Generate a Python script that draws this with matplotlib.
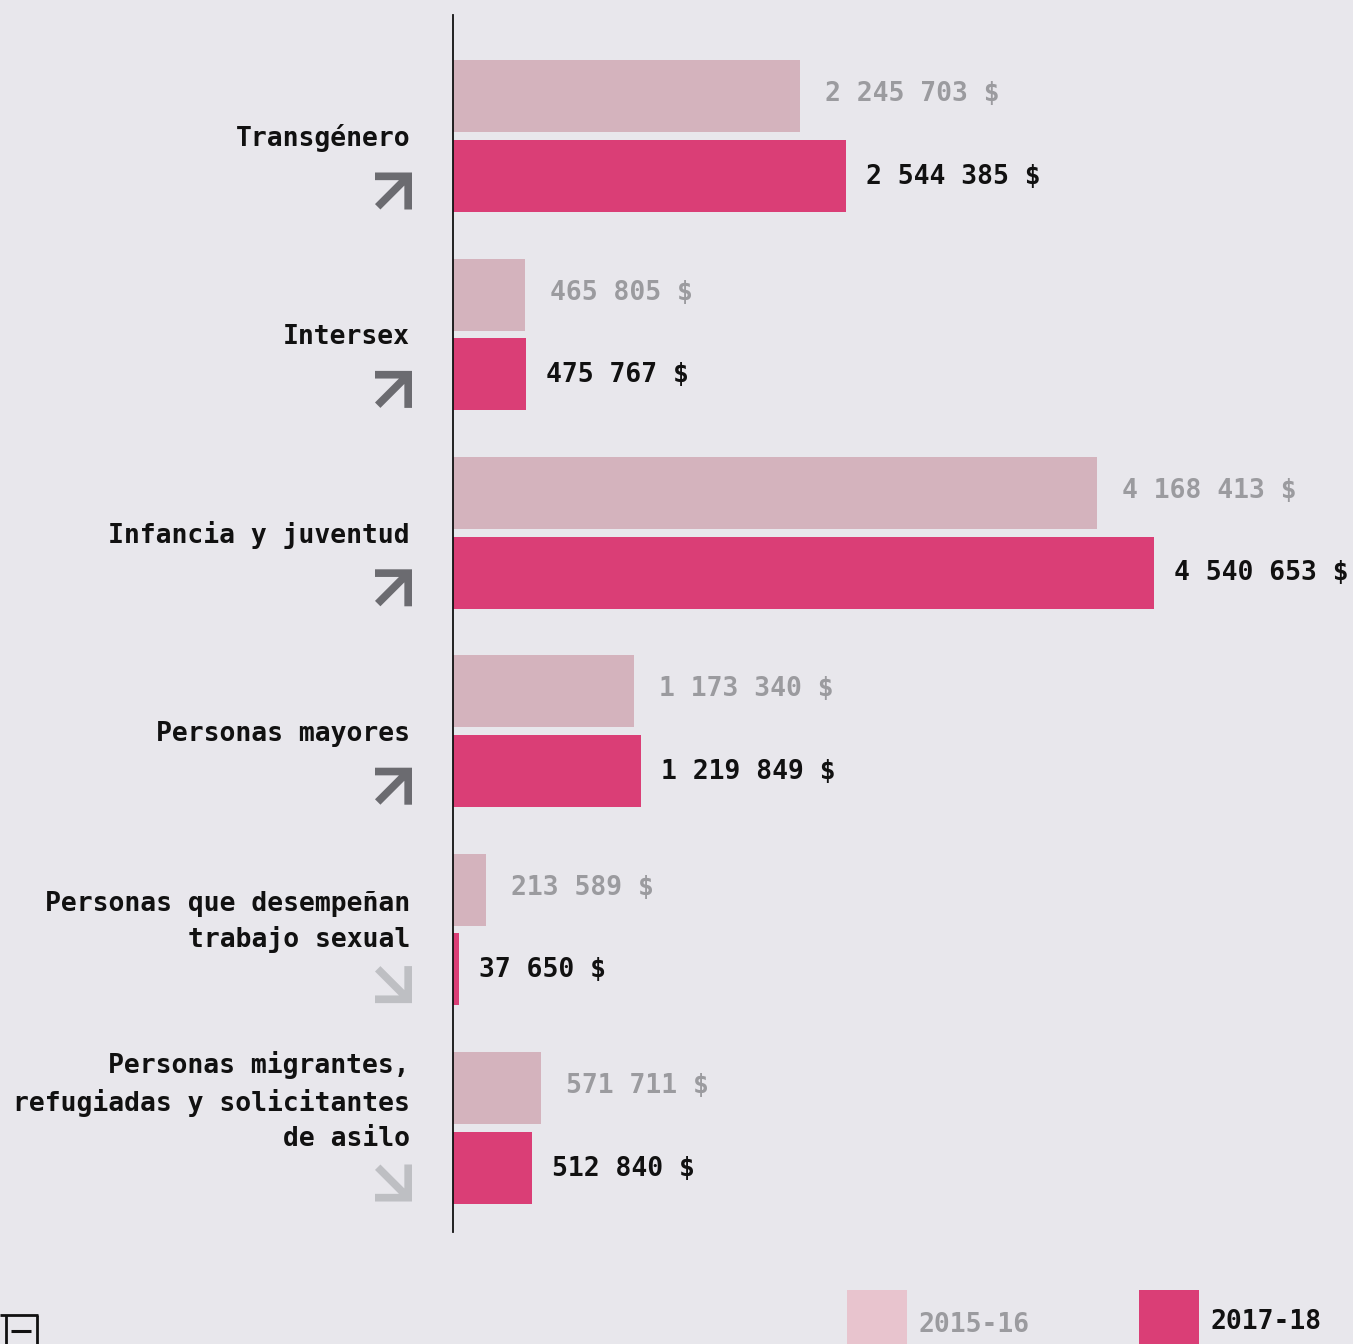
import matplotlib
matplotlib.use("Agg")
import matplotlib.pyplot as plt
from matplotlib.patches import Polygon, Rectangle
from matplotlib.transforms import IdentityTransform
from matplotlib.lines import Line2D
import numpy as np

# ---- data ----
categories = [
    "Transgénero",
    "Intersex",
    "Infancia y juventud",
    "Personas mayores",
    "Personas que desempeñan\ntrabajo sexual",
    "Personas migrantes,\nrefugiadas y solicitantes\nde asilo",
]
series_names = ["2015-16", "2017-18"]
values_2015 = [2245703, 465805, 4168413, 1173340, 213589, 571711]
values_2017 = [2544385, 475767, 4540653, 1219849, 37650, 512840]

# ---- style ----
BG = "#e8e7ec"
LIGHT = "#d4b3bd"
LIGHT_SWATCH = "#e8c4ce"
DARK = "#da3e76"
GRAY_TXT = "#9b9b9f"
UP_COL = "#6b6b70"
DOWN_COL = "#bebfc3"
FONT = "DejaVu Sans Mono"
FS = 19

W, H = 1353, 1344
fig = plt.figure(figsize=(W / 100, H / 100), dpi=100, facecolor=BG)
ax = fig.add_axes([453 / W, (H - 1232) / H, 900 / W, (1232 - 15) / H])
ax.set_facecolor(BG)

px_per_unit = 701 / 4540653
ax.set_xlim(0, 900 / px_per_unit)
grp = 198.4
ax.set_ylim((1232 - 136) / grp, (15 - 136) / grp)

y = np.arange(len(categories))
bh = 72 / grp
off = 39.7 / grp
ax.barh(y - off, values_2015, height=bh, color=LIGHT, zorder=2)
ax.barh(y + off, values_2017, height=bh, color=DARK, zorder=2)

for s in ["top", "right", "bottom"]:
    ax.spines[s].set_visible(False)
ax.spines["left"].set_color("#111111")
ax.spines["left"].set_linewidth(1.3)
ax.set_xticks([])
ax.set_yticks([])

def fmt(v):
    return f"{v:,}".replace(",", " ") + " $"

P = 0.72  # points per pixel
for i in range(len(categories)):
    ax.annotate(fmt(values_2015[i]), xy=(values_2015[i], y[i] - off), xytext=(25 * P, 2 * P),
                textcoords="offset points", ha="left", va="center",
                fontsize=FS, fontfamily=FONT, fontweight="bold", color=GRAY_TXT)
    ax.annotate(fmt(values_2017[i]), xy=(values_2017[i], y[i] + off), xytext=(20 * P, -1 * P),
                textcoords="offset points", ha="left", va="center",
                fontsize=FS, fontfamily=FONT, fontweight="bold", color="#111111")
    nl = categories[i].count("\n") + 1
    yoff = 10 if nl == 1 else 17.5
    ax.annotate(categories[i], xy=(0, y[i]), xycoords=ax.get_yaxis_transform(),
                xytext=(-43 * P, -yoff * P), textcoords="offset points",
                ha="right", va="baseline", multialignment="right", linespacing=1.43,
                fontsize=FS, fontfamily=FONT, fontweight="bold", color="#111111")

# ---- trend arrows ----
t = 3.1
r2 = np.sqrt(2)
shape = np.array([
    (0, 0), (15, 0), (15, 15), (15 - t, 15), (15 - t, t + t / r2),
    (t / r2, 15), (0, 15 - t / r2), (15 - t - t / r2, t), (0, t)
])
scale = 37 / 15
fig.canvas.draw()
for i in range(len(categories)):
    up = values_2017[i] >= values_2015[i]
    _, cy = ax.transData.transform((0, y[i]))
    cx = 393.5
    cy = cy - 55
    sx = shape[:, 0]
    sy = shape[:, 1]
    X = cx + (sx - 7.5) * scale
    if up:
        Y = cy - (sy - 7.5) * scale
    else:
        Y = cy + (sy - 7.5) * scale
    fig.add_artist(Polygon(np.column_stack([X, Y]), closed=True,
                           facecolor=UP_COL if up else DOWN_COL, edgecolor="none",
                           transform=IdentityTransform()))

# ---- legend ----
leg_x = [847, 1139]
leg_cols = [LIGHT_SWATCH, DARK]
leg_txt_cols = [GRAY_TXT, "#111111"]
leg_txt_y = [1325, 1322]
for k, name in enumerate(series_names):
    fig.add_artist(Rectangle((leg_x[k] / W, 0), 60 / W, (1344 - 1290) / H,
                             transform=fig.transFigure, facecolor=leg_cols[k],
                             edgecolor="none"))
    fig.text((leg_x[k] + 71) / W, (H - leg_txt_y[k]) / H, name, ha="left", va="center",
             fontsize=FS, fontfamily=FONT, fontweight="bold", color=leg_txt_cols[k])

# ---- small icon bottom-left ----
def fl(x0, y0, x1, y1, lw=2):
    fig.add_artist(Line2D([x0 / W, x1 / W], [(H - y0) / H, (H - y1) / H],
                          transform=fig.transFigure, color="#111111", lw=lw,
                          solid_capstyle="butt"))
fl(0, 1315, 38, 1315)
fl(37, 1315, 37, 1344)
fl(5.5, 1315, 5.5, 1344)
fl(11, 1331, 31, 1331, lw=2.2)

fig.savefig("out.png", dpi=100, facecolor=BG)
